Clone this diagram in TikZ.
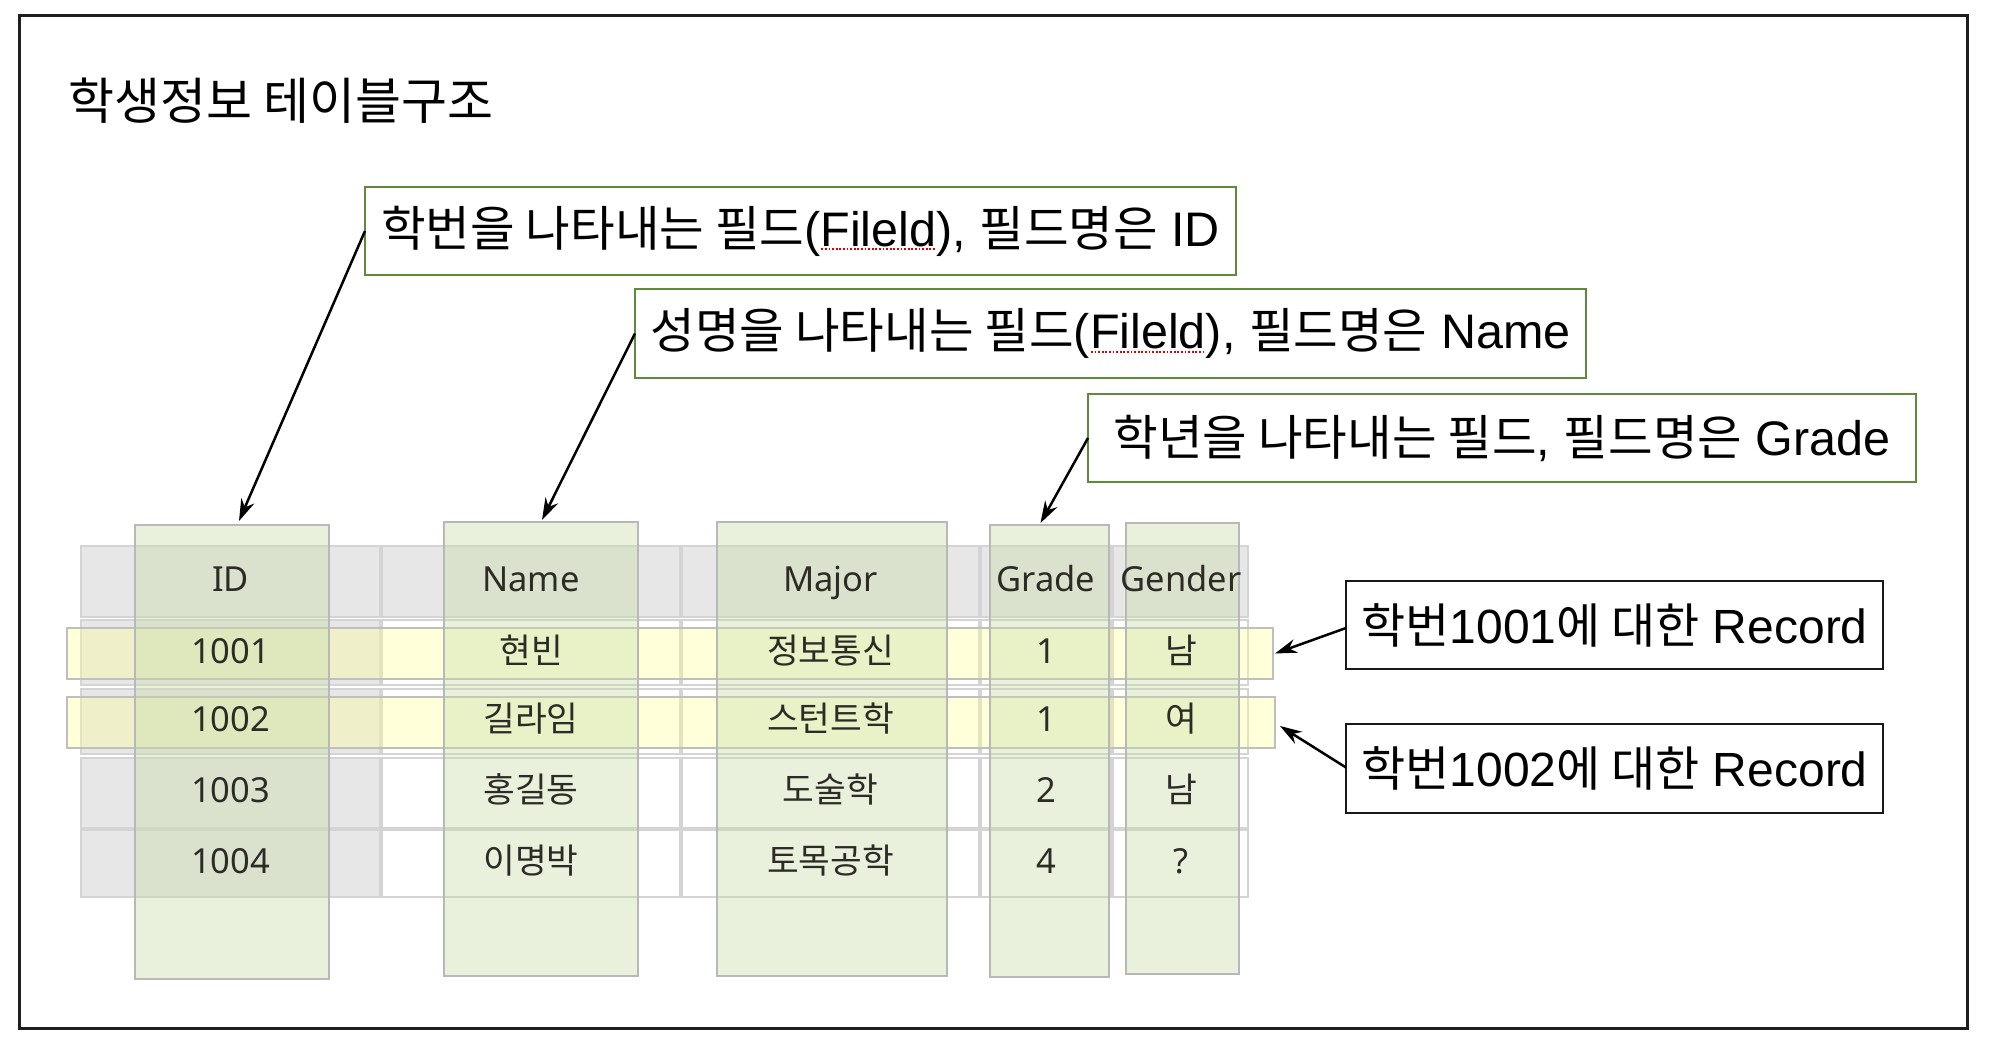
\documentclass[tikz,border=0pt]{standalone}
\usepackage{fontspec}
\setmainfont{Liberation Sans}
\newfontfamily\kr{Noto Sans CJK KR}
\newfontfamily\tl{Noto Sans}
\usetikzlibrary{arrows.meta}
\definecolor{boxgreen}{RGB}{96,137,62}
\definecolor{hdrgray}{RGB}{231,231,231}
\definecolor{cellline}{RGB}{212,212,212}
\definecolor{colgreen}{RGB}{198,220,166}
\definecolor{bandyel}{RGB}{255,255,150}
\definecolor{tabtext}{RGB}{44,44,38}
\definecolor{frameblk}{RGB}{30,30,30}
\newsavebox\sqbox
\newcommand\spellmark[1]{\sbox\sqbox{#1}\rlap{\raisebox{-4pt}{\color{red!85!black}\leaders\hbox to 3.6pt{\hss\rule{1.8pt}{1.8pt}\hss}\hskip\wd\sqbox}}\usebox\sqbox}
\begin{document}
\begin{tikzpicture}[x=1pt,y=-1pt,
  gbox/.style={draw=boxgreen, line width=2pt, fill=white, inner sep=0, outer sep=0, anchor=north west, font=\fontsize{48.5}{58}\selectfont},
  rbox/.style={draw=black!90, line width=2.5pt, fill=white, inner sep=0, outer sep=0, anchor=north west, font=\fontsize{48}{58}\selectfont},
  colbox/.style={draw=black!28, line width=1.5pt, fill=colgreen, fill opacity=.38, inner sep=0, outer sep=0, anchor=north west},
  bandbox/.style={draw=black!25, line width=1.5pt, fill=bandyel, fill opacity=.35, inner sep=0, outer sep=0, anchor=north west},
  cell/.style={draw=cellline, line width=1.2pt, inner sep=0, outer sep=0, anchor=north west},
  ttext/.style={text=tabtext, font=\fontsize{34.5}{40}\selectfont, inner sep=0, text height=27pt, text depth=7pt},
  arr/.style={-{Stealth[length=22pt,width=14pt]}, line width=2.5pt, draw=black}]
\useasboundingbox (0,0) rectangle (1990,1052);
\fill[white] (0,0) rectangle (1990,1052);
\draw[line width=3pt, frameblk] (19,15) rectangle (1967,1028);
\node[anchor=west, inner sep=0, font=\kr\fontsize{50}{60}\selectfont] (title) at (68,101) {학생정보 테이블구조};
% table cells
\foreach \r/\ya/\yb in {0/545/618,1/619/686,2/688/755,3/757/829,4/829/898}{
  \foreach \c/\xa/\xb in {0/80/381,1/381/681,2/681/980,3/980/1112,4/1112/1249}{
    \ifnum\r=0 \def\cf{hdrgray}\else\ifnum\c=0 \def\cf{hdrgray}\else\def\cf{white}\fi\fi
    \node[cell, fill=\cf, minimum width={\xb-\xa-2}, minimum height={\yb-\ya-2}] (cell-\r-\c) at ({\xa+1},{\ya+1}) {};
  }
}
% record bands
\node[bandbox, minimum width=1206, minimum height=51] (band1) at (67,628) {};
\node[bandbox, minimum width=1208, minimum height=51] (band2) at (67,697) {};
% field columns
\node[colbox, minimum width=194, minimum height=454] (idcol) at (135,525) {};
\node[colbox, minimum width=194, minimum height=454] (namecol) at (444,522) {};
\node[colbox, minimum width=230, minimum height=454] (majorcol) at (717,522) {};
\node[colbox, minimum width=119, minimum height=452] (gradecol) at (990,525) {};
\node[colbox, minimum width=113, minimum height=451] (gendercol) at (1126,523) {};
% table text
\foreach \c/\x/\t in {0/230.5/ID,1/531/Name,2/830.5/Major,3/1046/Grade,4/1181/Gender}
  \node[ttext, font=\tl\fontsize{34.5}{40}\selectfont] (hd-\c) at (\x,581) {\t};
\foreach \c/\x/\t in {0/230.5/{\tl 1001},1/531/{\kr 현빈},2/830.5/{\kr 정보통신},3/1046/{\tl 1},4/1181/{\kr 남}}
  \node[ttext] (ra-\c) at (\x,653) {\t};
\foreach \c/\x/\t in {0/230.5/{\tl 1002},1/531/{\kr 길라임},2/830.5/{\kr 스턴트학},3/1046/{\tl 1},4/1181/{\kr 여}}
  \node[ttext] (rb-\c) at (\x,721) {\t};
\foreach \c/\x/\t in {0/230.5/{\tl 1003},1/531/{\kr 홍길동},2/830.5/{\kr 도술학},3/1046/{\tl 2},4/1181/{\kr 남}}
  \node[ttext] (rc-\c) at (\x,792) {\t};
\foreach \c/\x/\t in {0/230.5/{\tl 1004},1/531/{\kr 이명박},2/830.5/{\kr 토목공학},3/1046/{\tl 4},4/1181/{\tl ?}}
  \node[ttext] (rd-\c) at (\x,863) {\t};
% callout boxes
\node[gbox, minimum width=871, minimum height=88] (b1) at (365,187) {{\kr 학번을 나타내는 필드}(\spellmark{Fileld}), {\kr 필드명은} ID};
\node[gbox, minimum width=951, minimum height=89] (b2) at (635,289) {{\kr 성명을 나타내는 필드}(\spellmark{Fileld}), {\kr 필드명은} Name};
\node[gbox, minimum width=828, minimum height=88] (b3) at (1088,394) {{\kr 학년을 나타내는 필드}, {\kr 필드명은} Grade};
\node[rbox, minimum width=537, minimum height=88] (r1) at (1346,581) {{\kr 학번}1001{\kr 에 대한} Record};
\node[rbox, minimum width=537, minimum height=89] (r2) at (1346,724) {{\kr 학번}1002{\kr 에 대한} Record};
% arrows
\draw[arr] (b1.west) -- ([shift={(7,-4)}]idcol.north);
\draw[arr] (b2.west) -- ([shift={(1,-2)}]namecol.north);
\draw[arr] (b3.west) -- ([shift={(-9,-2)}]gradecol.north);
\draw[arr] ([shift={(0,3)}]r1.west) -- ([shift={(2,0)}]band1.east);
\draw[arr] ([shift={(0,-1)}]r2.west) -- ([shift={(5,3.5)}]band2.east);
\end{tikzpicture}
\end{document}
